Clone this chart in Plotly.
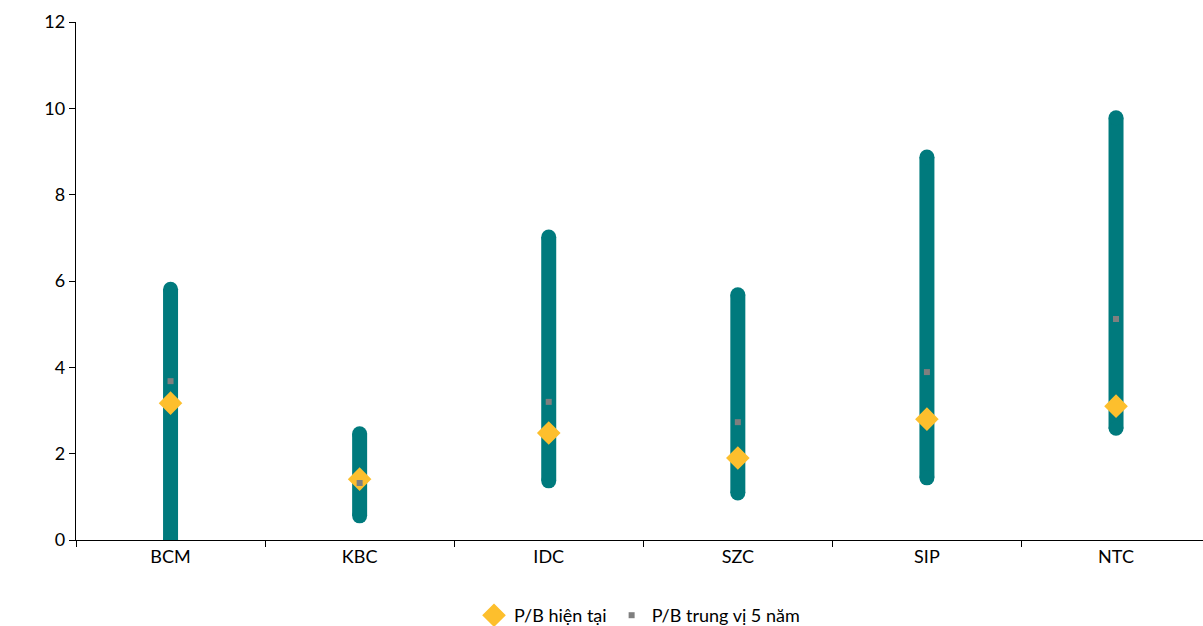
import plotly.graph_objects as go

categories = ["BCM", "KBC", "IDC", "SZC", "SIP", "NTC"]
pb_low = [0.0, 0.56, 1.37, 1.09, 1.44, 2.59]
pb_high = [5.81, 2.46, 7.02, 5.68, 8.87, 9.78]
pb_current = [3.17, 1.41, 2.48, 1.90, 2.80, 3.10]
pb_median = [3.68, 1.32, 3.20, 2.73, 3.89, 5.12]
y_ticks = [0, 2, 4, 6, 8, 10, 12]

TEAL = "#007A7D"
GOLD = "#FDBF2D"
GREY = "#7F7F7F"
FONT = "Lato"

xs, ys = [], []
for c, lo, hi in zip(categories, pb_low, pb_high):
    xs += [c, c, None]
    ys += [lo, hi, None]

fig = go.Figure()
fig.add_trace(go.Scatter(
    x=xs, y=ys, mode="lines+markers", showlegend=False, hoverinfo="skip",
    line=dict(color=TEAL, width=15),
    marker=dict(symbol="circle", size=15, color=TEAL, line=dict(width=0)),
    connectgaps=False,
))
fig.add_trace(go.Scatter(
    x=categories, y=pb_current, mode="markers", name="P/B hiện tại",
    marker=dict(symbol="diamond", size=16, color=GOLD, line=dict(color=GOLD, width=2)),
))
fig.add_trace(go.Scatter(
    x=categories, y=pb_median, mode="markers", name="P/B trung vị 5 năm",
    marker=dict(symbol="square", size=6, color=GREY, line=dict(width=0)),
))

fig.update_layout(
    width=1203, height=634,
    margin=dict(l=76, r=0, t=22, b=94),
    paper_bgcolor="white", plot_bgcolor="white",
    font=dict(family=FONT, size=18, color="#000000"),
    showlegend=True,
    legend=dict(orientation="h", x=0.5, xanchor="center",
                yref="container", y=0.0, yanchor="bottom",
                font=dict(family=FONT, size=18, color="#000000"), itemwidth=30,
                traceorder="normal", borderwidth=0),
    xaxis=dict(
        type="category", categoryorder="array", categoryarray=categories,
        range=[-0.5, 5.46], showgrid=False, zeroline=False,
        showline=True, linecolor="#000000", linewidth=1.3,
        ticks="outside", tickson="boundaries", ticklen=6, tickcolor="#000000",
        tickfont=dict(family=FONT, size=18, color="#000000"),
    ),
    yaxis=dict(
        range=[0, 12], tickvals=y_ticks, showgrid=False, zeroline=False,
        showline=True, linecolor="#000000", linewidth=1.3,
        ticks="outside", ticklen=6, tickcolor="#000000",
        tickfont=dict(family=FONT, size=18, color="#000000"),
    ),
)

fig.write_html(
    "out.html",
    config={"displayModeBar": False},
    post_script="document.body.style.margin='0';document.body.style.overflow='hidden';",
)
